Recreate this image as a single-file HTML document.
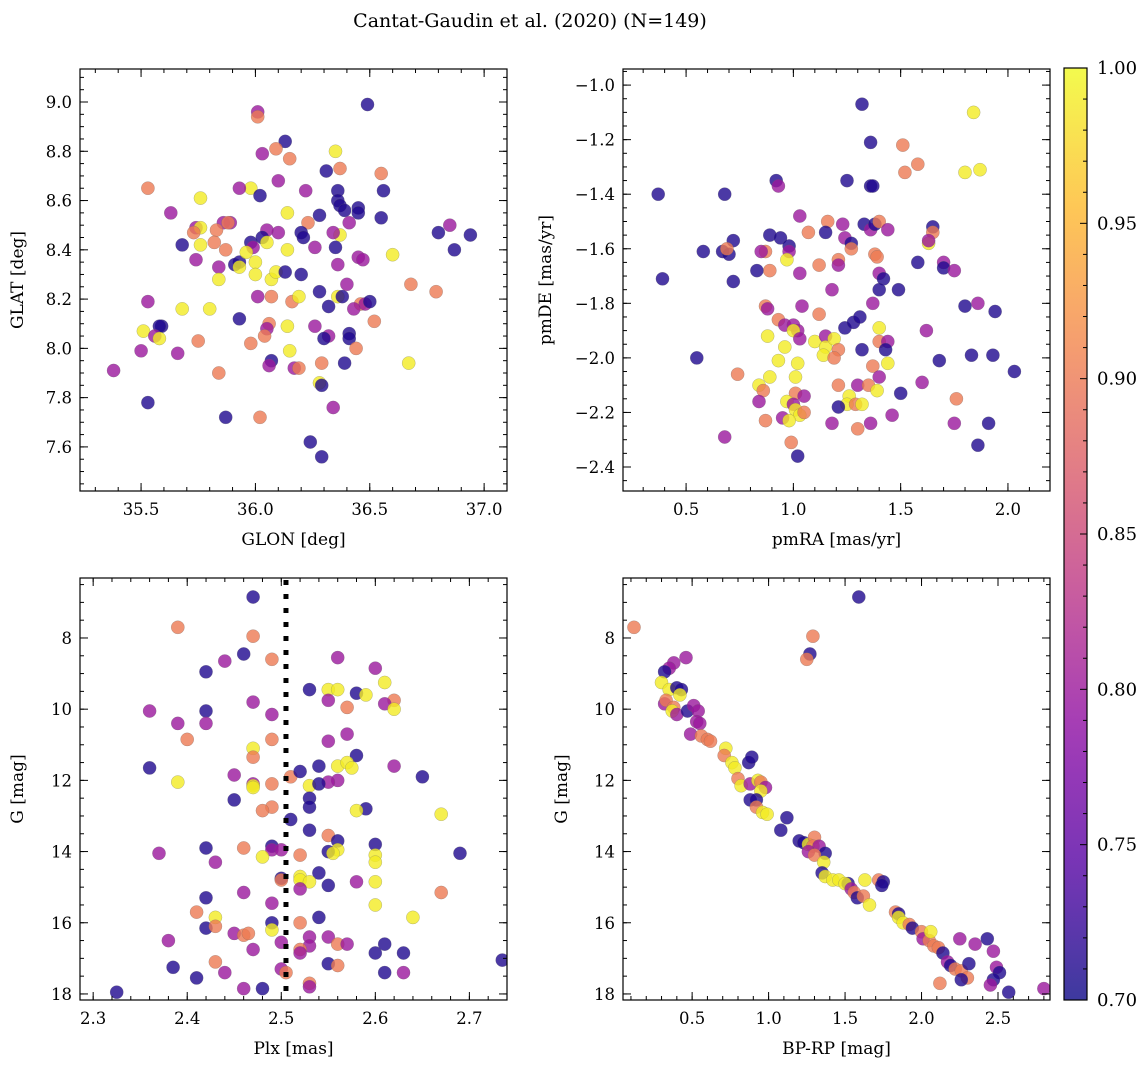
<!DOCTYPE html>
<html><head><meta charset="utf-8"><style>
html,body{margin:0;padding:0;background:#fff;}
svg{display:block;font-family:"DejaVu Serif","Liberation Serif",serif;}
</style></head><body>
<svg id="fig" width="1148" height="1068" viewBox="0 0 1148 1068" xmlns="http://www.w3.org/2000/svg">
<text x="530" y="27" text-anchor="middle" font-size="19">Cantat-Gaudin et al. (2020) (N=149)</text>
</svg>
<script>
// ---- Panel 1: GLON vs GLAT ----
const glon=[36.49,36.01,36.01,36.13,36.09,36.03,36.35,36.15,36.37,36.31,36.55,35.53,35.98,35.93,36.10,36.22,36.36,36.56,36.02,35.76,36.36,36.37,36.39,36.45,36.45,36.14,35.63,36.28,36.55,35.86,35.89,35.88,36.23,36.41,35.74,35.76,35.73,35.83,36.10,36.20,36.21,36.05,36.37,36.34,35.98,36.03,35.82,35.76,35.68,35.99,36.05,36.14,36.26,36.35,36.45,36.47,36.85,36.80,36.94,36.87,36.60,35.74,35.84,35.87,35.93,35.91,35.93,35.96,36.00,36.00,36.07,36.09,36.13,36.20,36.36,35.84,36.40,36.68,36.79,35.53,36.01,36.07,36.16,36.19,36.28,36.36,36.38,35.68,35.80,36.46,36.48,36.50,36.32,36.43,36.52,35.59,35.58,35.51,35.56,35.58,35.93,36.06,36.05,36.14,36.26,36.32,36.30,36.41,36.41,35.75,36.04,35.98,35.50,35.66,36.15,36.44,35.84,36.07,36.06,36.17,36.19,36.29,36.39,36.67,35.38,36.28,36.29,35.53,36.34,35.87,36.02,36.24,36.29];
const glat=[8.99,8.96,8.94,8.84,8.81,8.79,8.80,8.77,8.73,8.72,8.71,8.65,8.65,8.65,8.68,8.64,8.64,8.64,8.62,8.61,8.60,8.58,8.56,8.57,8.55,8.55,8.55,8.54,8.53,8.51,8.51,8.51,8.51,8.51,8.49,8.49,8.47,8.48,8.47,8.47,8.45,8.48,8.46,8.47,8.43,8.45,8.43,8.42,8.42,8.41,8.43,8.40,8.41,8.41,8.37,8.36,8.50,8.47,8.46,8.40,8.38,8.36,8.33,8.40,8.35,8.34,8.33,8.39,8.35,8.30,8.28,8.31,8.31,8.30,8.34,8.28,8.26,8.26,8.23,8.19,8.21,8.21,8.19,8.21,8.23,8.21,8.21,8.16,8.16,8.18,8.18,8.19,8.17,8.16,8.11,8.09,8.09,8.07,8.05,8.04,8.12,8.10,8.08,8.09,8.09,8.05,8.04,8.06,8.04,8.03,8.05,8.02,7.99,7.98,7.99,8.00,7.90,7.95,7.93,7.92,7.92,7.94,7.94,7.94,7.91,7.86,7.85,7.78,7.76,7.72,7.72,7.62,7.56];
const prob1=[.71,.8,.9,.71,.9,.8,.99,.9,.9,.71,.9,.9,.99,.8,.8,.8,.71,.71,.71,.99,.71,.71,.71,.71,.71,.99,.8,.71,.71,.8,.8,.9,.9,.8,.8,.99,.9,.9,.8,.71,.71,.8,.99,.8,.71,.71,.9,.99,.71,.8,.99,.99,.8,.71,.8,.8,.8,.71,.71,.71,.99,.8,.8,.9,.71,.71,.99,.99,.99,.99,.99,.99,.71,.71,.8,.99,.8,.9,.9,.8,.8,.9,.9,.99,.71,.99,.71,.99,.99,.9,.8,.71,.71,.8,.9,.71,.71,.99,.8,.99,.71,.9,.8,.99,.8,.8,.71,.71,.71,.9,.9,.9,.8,.8,.99,.9,.9,.71,.8,.8,.9,.9,.71,.99,.8,.99,.71,.71,.8,.71,.9,.71,.71];
// ---- Panel 2: pmRA vs pmDE ----
const pmra=[1.32,1.84,1.36,1.51,1.58,1.52,1.80,1.87,1.25,0.92,0.93,1.36,1.37,0.37,0.68,1.03,1.16,1.23,1.33,1.36,1.38,1.40,1.44,1.65,1.65,1.07,1.15,0.89,0.94,1.24,1.27,0.72,0.58,0.67,0.70,0.69,0.87,0.85,0.98,0.98,1.27,1.38,1.39,1.63,1.63,0.97,1.21,1.21,1.12,1.58,1.70,1.70,1.75,0.39,0.72,0.89,1.03,1.40,1.42,1.40,1.37,1.18,1.49,0.83,0.87,0.88,1.04,1.80,1.86,1.94,1.12,1.24,1.28,1.31,1.40,1.62,0.93,0.88,0.96,1.00,1.02,1.00,0.96,1.03,1.10,1.15,1.15,1.19,1.14,1.21,1.19,1.40,1.44,1.43,1.32,0.55,0.93,1.02,1.44,1.83,1.93,1.68,0.74,0.89,1.01,1.37,1.40,1.60,2.03,0.84,0.86,1.21,1.30,1.35,1.39,1.01,1.05,1.26,1.25,1.29,1.50,0.84,0.97,1.00,1.32,1.21,1.01,1.03,1.05,0.95,0.87,0.98,1.18,1.36,1.30,1.75,1.46,1.76,1.91,0.68,0.99,1.86,1.02];
const pmde=[-1.07,-1.10,-1.21,-1.22,-1.29,-1.32,-1.32,-1.31,-1.35,-1.35,-1.37,-1.37,-1.37,-1.40,-1.40,-1.48,-1.50,-1.51,-1.51,-1.53,-1.51,-1.50,-1.53,-1.52,-1.54,-1.54,-1.54,-1.55,-1.56,-1.56,-1.58,-1.57,-1.61,-1.61,-1.62,-1.60,-1.61,-1.61,-1.59,-1.61,-1.60,-1.62,-1.63,-1.58,-1.57,-1.64,-1.64,-1.66,-1.66,-1.65,-1.65,-1.67,-1.68,-1.71,-1.72,-1.68,-1.69,-1.69,-1.71,-1.75,-1.80,-1.75,-1.75,-1.68,-1.81,-1.82,-1.81,-1.81,-1.80,-1.83,-1.84,-1.89,-1.87,-1.85,-1.89,-1.90,-1.86,-1.92,-1.88,-1.88,-1.90,-1.90,-1.96,-1.93,-1.94,-1.92,-1.96,-1.93,-1.99,-1.97,-2.00,-1.94,-1.94,-1.97,-1.97,-2.00,-2.01,-2.02,-2.02,-1.99,-1.99,-2.01,-2.06,-2.07,-2.07,-2.03,-2.07,-2.09,-2.05,-2.10,-2.12,-2.10,-2.10,-2.10,-2.12,-2.13,-2.14,-2.14,-2.17,-2.17,-2.13,-2.16,-2.16,-2.17,-2.17,-2.18,-2.19,-2.21,-2.20,-2.22,-2.23,-2.23,-2.24,-2.24,-2.26,-2.24,-2.21,-2.15,-2.24,-2.29,-2.31,-2.32,-2.36];
const prob2=[.71,.99,.71,.9,.9,.9,.99,.99,.71,.71,.8,.71,.71,.71,.71,.8,.9,.8,.71,.8,.71,.9,.8,.71,.9,.9,.71,.71,.71,.8,.71,.71,.71,.71,.71,.9,.9,.8,.71,.8,.9,.9,.9,.99,.8,.99,.9,.8,.9,.71,.8,.71,.8,.71,.71,.9,.8,.8,.71,.71,.8,.8,.71,.71,.9,.8,.8,.71,.8,.71,.9,.71,.71,.71,.99,.8,.9,.99,.8,.8,.8,.99,.99,.8,.99,.8,.99,.99,.99,.9,.9,.9,.8,.71,.71,.71,.99,.99,.99,.71,.71,.71,.9,.99,.99,.9,.8,.8,.71,.99,.9,.9,.8,.9,.99,.9,.8,.99,.99,.9,.71,.8,.99,.8,.99,.71,.99,.99,.9,.8,.9,.99,.8,.8,.9,.8,.8,.9,.71,.8,.9,.71,.71];
// ---- Panel 3: Plx vs G ----
const plx=[2.47,2.39,2.47,2.44,2.46,2.49,2.42,2.56,2.60,2.61,2.53,2.55,2.56,2.58,2.59,2.62,2.61,2.62,2.55,2.57,2.36,2.42,2.39,2.42,2.47,2.49,2.45,2.55,2.40,2.57,2.58,2.62,2.47,2.47,2.49,2.36,2.39,2.47,2.47,2.47,2.51,2.52,2.54,2.56,2.57,2.575,2.65,2.56,2.55,2.49,2.53,2.54,2.53,2.45,2.53,2.49,2.48,2.59,2.58,2.67,2.51,2.53,2.55,2.56,2.60,2.42,2.46,2.49,2.49,2.50,2.37,2.43,2.48,2.52,2.56,2.55,2.555,2.60,2.60,2.69,2.54,2.52,2.52,2.53,2.50,2.50,2.55,2.58,2.60,2.52,2.46,2.49,2.42,2.41,2.43,2.49,2.52,2.54,2.45,2.49,2.60,2.64,2.67,2.42,2.43,2.46,2.465,2.50,2.53,2.53,2.55,2.56,2.57,2.52,2.52,2.38,2.43,2.47,2.50,2.505,2.385,2.41,2.44,2.48,2.46,2.53,2.53,2.55,2.56,2.60,2.61,2.61,2.63,2.63,2.735,2.325];
const gmag3=[6.85,7.7,7.95,8.65,8.45,8.6,8.95,8.55,8.85,9.25,9.45,9.45,9.45,9.55,9.6,9.75,9.85,10.0,9.75,9.95,10.05,10.05,10.4,10.4,9.8,10.15,11.85,10.9,10.85,10.7,11.3,11.6,11.1,11.35,10.85,11.65,12.05,12.1,12.15,12.2,11.9,11.75,11.6,11.6,11.5,11.65,11.9,12.0,12.05,12.1,12.15,12.1,12.5,12.55,12.75,12.75,12.85,12.8,12.85,12.95,13.1,13.4,13.55,13.7,13.8,13.9,13.9,13.85,13.95,13.95,14.05,14.3,14.15,14.1,13.95,14.0,14.05,14.1,14.3,14.05,14.6,14.7,14.8,14.85,14.75,14.8,14.95,14.85,14.85,15.05,15.15,15.45,15.3,15.7,15.85,16.0,16.0,15.85,16.3,16.2,15.5,15.85,15.15,16.15,16.1,16.35,16.3,16.55,16.4,16.65,16.4,16.6,16.6,16.75,16.85,16.5,17.1,16.75,17.3,17.4,17.25,17.55,17.4,17.85,17.85,17.7,17.8,17.15,17.2,16.85,16.6,17.4,16.85,17.4,17.05,17.95];
const prob3=[.71,.9,.9,.8,.71,.9,.71,.8,.8,.99,.71,.99,.99,.71,.99,.9,.8,.99,.8,.9,.8,.71,.8,.8,.8,.8,.8,.8,.9,.8,.71,.8,.99,.9,.9,.71,.99,.8,.99,.99,.9,.71,.71,.99,.99,.99,.71,.8,.8,.9,.99,.71,.71,.71,.71,.9,.9,.71,.99,.99,.71,.71,.9,.71,.71,.71,.9,.71,.8,.8,.8,.8,.99,.9,.99,.71,.99,.99,.99,.71,.71,.99,.99,.99,.71,.9,.71,.8,.99,.8,.8,.8,.71,.9,.99,.71,.9,.71,.8,.99,.99,.99,.9,.71,.9,.9,.9,.8,.8,.8,.8,.9,.8,.9,.8,.8,.9,.8,.8,.9,.71,.71,.8,.71,.8,.9,.8,.71,.9,.71,.71,.71,.71,.8,.71,.71];
// ---- Panel 4: BP-RP vs G ----
const bprp=[1.59,0.12,1.29,1.27,1.25,0.46,0.38,0.35,0.32,0.30,0.35,0.40,0.43,0.42,0.32,0.33,0.38,0.37,0.40,0.47,0.51,0.54,0.53,0.55,0.49,0.56,0.60,0.62,0.72,0.71,0.76,0.78,0.87,0.89,0.80,0.82,0.88,0.93,0.95,0.98,0.95,0.88,0.92,0.92,0.96,0.99,1.12,1.08,1.20,1.23,1.26,1.30,1.29,1.33,1.37,1.26,1.30,1.36,1.35,1.37,1.42,1.46,1.52,1.50,1.54,1.56,1.58,1.62,1.66,1.63,1.72,1.75,1.74,1.83,1.85,1.85,1.88,1.92,1.94,2.00,2.01,2.05,2.06,2.08,2.11,2.14,2.17,2.19,2.22,2.26,2.30,2.31,2.25,2.35,2.43,2.47,2.49,2.51,2.47,2.45,2.57,2.80,2.12,2.26];
const gmag4=[6.85,7.7,7.95,8.45,8.6,8.55,8.7,8.85,8.95,9.25,9.45,9.4,9.45,9.6,9.85,9.75,9.95,10.05,10.15,10.05,9.9,10.05,10.35,10.4,10.7,10.75,10.85,10.9,11.1,11.3,11.5,11.65,11.5,11.35,11.95,12.15,12.1,12.0,12.05,12.2,12.3,12.55,12.55,12.75,12.9,12.95,13.05,13.4,13.7,13.75,13.8,13.6,13.85,13.85,14.05,14.0,14.1,14.3,14.6,14.7,14.8,14.8,14.9,14.9,15.05,15.15,15.3,15.25,15.5,14.8,14.8,14.85,14.95,15.7,15.75,15.85,16.0,16.05,16.15,16.25,16.45,16.5,16.25,16.65,16.7,16.85,17.1,17.2,17.3,17.35,17.55,17.15,16.45,16.6,16.45,16.8,17.25,17.4,17.6,17.75,17.95,17.85,17.7,17.6];
const prob4=[.71,.9,.9,.71,.9,.8,.8,.8,.71,.99,.99,.71,.71,.99,.8,.9,.9,.99,.8,.71,.8,.8,.8,.8,.8,.9,.9,.9,.99,.9,.99,.99,.71,.71,.9,.99,.8,.99,.9,.8,.99,.71,.71,.9,.99,.99,.71,.71,.71,.71,.99,.9,.9,.8,.71,.8,.9,.99,.71,.99,.99,.99,.71,.99,.8,.9,.71,.9,.99,.99,.9,.71,.71,.9,.71,.99,.99,.9,.71,.9,.8,.9,.99,.9,.9,.71,.8,.71,.9,.9,.9,.71,.8,.8,.71,.8,.8,.71,.71,.8,.71,.8,.9,.71];
const plxLine=2.505;
const cbTicks=["0.70","0.75","0.80","0.85","0.90","0.95","1.00"];

const NS="http://www.w3.org/2000/svg";
const svg=document.getElementById('fig');
function mk(tag,attrs,parent){const e=document.createElementNS(NS,tag);for(const k in attrs)e.setAttribute(k,attrs[k]);(parent||svg).appendChild(e);return e;}
const stops=[[0,[13,8,135]],[0.125,[84,2,163]],[0.25,[139,10,165]],[0.375,[185,50,137]],[0.5,[219,92,104]],[0.625,[244,136,73]],[0.75,[254,188,43]],[0.875,[240,249,33]],[1,[240,249,33]]];
function plasma(t){t=Math.max(0,Math.min(1,t));for(let i=1;i<stops.length;i++){if(t<=stops[i][0]){const a=stops[i-1],b=stops[i];const f=(t-a[0])/(b[0]-a[0]||1);const c=a[1].map((v,j)=>Math.round(v+(b[1][j]-v)*f));return `rgb(${c[0]},${c[1]},${c[2]})`;}}return 'rgb(240,249,33)';}
function col(p){const t=(p-0.7)/0.3;return plasma(t*0.875>0.86?0.875:t*0.875);}

function fmt(v,d){return v.toFixed(d).replace('-','\u2212');}
function panel(cfg){
  const {name,L,T,W,H,x0,x1,y0,y1,inv,xMaj,xMin,yMaj,yMin,xd,yd,xlab,ylab,xs,ys,ps}=cfg;
  const g=mk('g',{});
  
  
  const sx=v=>L+(v-x0)/(x1-x0)*W;
  const sy=v=>inv?T+(v-y0)/(y1-y0)*H:T+H-(v-y0)/(y1-y0)*H;
  const clip=mk('clipPath',{id:'c'+name},g);mk('rect',{x:L,y:T,width:W,height:H},clip);
  const pts=mk('g',{'clip-path':`url(#c${name})`},g);
  
  
  for(let i=0;i<xs.length;i++){
    const c=mk('circle',{cx:sx(xs[i]).toFixed(1),cy:sy(ys[i]).toFixed(1),r:6.6,fill:col(ps[i]),'fill-opacity':0.8,stroke:'#666','stroke-opacity':0.45,'stroke-width':0.5},pts);
    
    
  }
  if(cfg.vline!==undefined){
    const l=mk('line',{x1:sx(cfg.vline),x2:sx(cfg.vline),y1:T+2,y2:T+H,stroke:'#000','stroke-width':5,'stroke-dasharray':'5 9'},pts);
    
    
  }
  mk('rect',{x:L,y:T,width:W,height:H,fill:'none',stroke:'#000','stroke-width':1.2},g);
  const tk=mk('g',{stroke:'#000','stroke-width':1},g);
  function xt(v,len){const X=sx(v);if(X<L-0.5||X>L+W+0.5)return;mk('line',{x1:X,x2:X,y1:T+H,y2:T+H-len},tk);mk('line',{x1:X,x2:X,y1:T,y2:T+len},tk);}
  function yt(v,len){const Y=sy(v);if(Y<T-0.5||Y>T+H+0.5)return;mk('line',{x1:L,x2:L+len,y1:Y,y2:Y},tk);mk('line',{x1:L+W,x2:L+W-len,y1:Y,y2:Y},tk);}
  const lo=Math.min(x0,x1),hi=Math.max(x0,x1);
  for(let v=Math.ceil(lo/xMin)*xMin;v<=hi;v+=xMin)xt(v,4);
  const ylo=Math.min(y0,y1),yhi=Math.max(y0,y1);
  for(let v=Math.ceil(ylo/yMin)*yMin;v<=yhi;v+=yMin)yt(v,4);
  const xl=mk('g',{'font-size':16.5,'text-anchor':'middle'},g);
  
  
  xMaj.forEach(v=>{xt(v,8);const t=mk('text',{x:sx(v),y:T+H+24},xl);t.textContent=fmt(v,xd);});
  const yl=mk('g',{'font-size':16.5,'text-anchor':'end'},g);
  
  
  yMaj.forEach(v=>{yt(v,8);const t=mk('text',{x:L-8,y:sy(v)+6},yl);t.textContent=fmt(v,yd);});
  const xt2=mk('text',{x:L+W/2,y:T+H+54,'font-size':17,'text-anchor':'middle'},g);
  
  
  xt2.textContent=xlab;
  const cx=cfg.ylx;
  const yt2=mk('text',{x:cx,y:T+H/2,'font-size':17,'text-anchor':'middle',transform:`rotate(-90 ${cx} ${T+H/2})`},g);
  
  
  yt2.textContent=ylab;
}
function range(a,b,s){const r=[];for(let v=a;v<=b+1e-9;v+=s)r.push(+v.toFixed(4));return r;}
panel({name:'sky-panel',L:80,T:69,W:427,H:422,x0:35.233,x1:37.10,y0:7.421,y1:9.134,xMaj:range(35.5,37,0.5),xMin:0.1,yMaj:range(7.6,9.0,0.2),yMin:0.05,xd:1,yd:1,xlab:'GLON [deg]',ylab:'GLAT [deg]',ylx:23,xs:glon,ys:glat,ps:prob1});
panel({name:'pm-panel',L:623,T:69,W:427,H:422,x0:0.206,x1:2.196,y0:-2.488,y1:-0.941,xMaj:range(0.5,2.0,0.5),xMin:0.1,yMaj:range(-2.4,-1.0,0.2),yMin:0.05,xd:1,yd:1,xlab:'pmRA [mas/yr]',ylab:'pmDE [mas/yr]',ylx:551,xs:pmra,ys:pmde,ps:prob2});
panel({name:'plx-panel',L:80,T:578,W:427,H:422,x0:2.286,x1:2.740,y0:6.315,y1:18.17,inv:true,xMaj:range(2.3,2.7,0.1),xMin:0.02,yMaj:range(8,18,2),yMin:0.5,xd:1,yd:0,xlab:'Plx [mas]',ylab:'G [mag]',ylx:23,xs:plx,ys:gmag3,ps:prob3,vline:plxLine});
panel({name:'cmd-panel',L:623,T:578,W:427,H:422,x0:0.048,x1:2.84,y0:6.315,y1:18.17,inv:true,xMaj:range(0.5,2.5,0.5),xMin:0.1,yMaj:range(8,18,2),yMin:0.5,xd:1,yd:0,xlab:'BP-RP [mag]',ylab:'G [mag]',ylx:567,xs:bprp,ys:gmag4,ps:prob4});
// colorbar
(function(){
  const L=1064,T=68,W=23,H=932;
  const defs=mk('defs',{});const lg=mk('linearGradient',{id:'cbg',x1:0,y1:1,x2:0,y2:0},defs);
  for(let i=0;i<=20;i++){const p=0.7+0.3*i/20;mk('stop',{offset:i/20,'stop-color':col(p),'stop-opacity':0.8},lg);}
  const g=mk('g',{});
  
  
  mk('rect',{x:L,y:T,width:W,height:H,fill:'url(#cbg)',stroke:'#000','stroke-width':1.2},g);
  const sy=v=>T+H-(v-0.7)/0.3*H;
  for(let k=0;k<=30;k++){const v=0.7+k*0.01;const Y=sy(v);const len=(k%5===0)?7:4;mk('line',{x1:L+W,x2:L+W-len,y1:Y,y2:Y,stroke:'#000','stroke-width':1},g);}
  cbTicks.forEach(s=>{const t=mk('text',{x:L+W+10,y:sy(parseFloat(s))+6,'font-size':18},g);t.textContent=s;
    
    });
})();
</script>
</body></html>
